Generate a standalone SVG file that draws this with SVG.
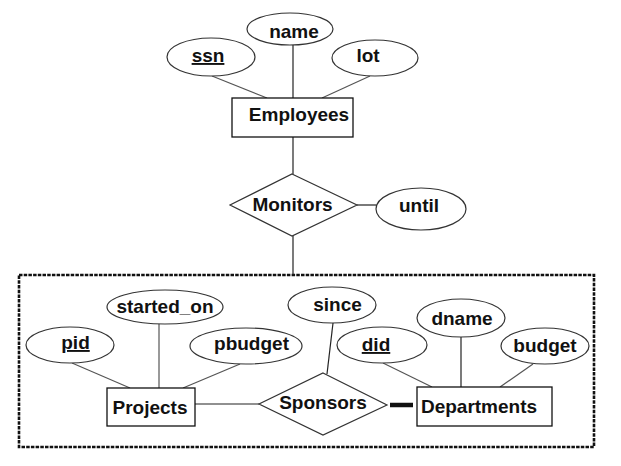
<svg xmlns="http://www.w3.org/2000/svg" width="621" height="466" viewBox="0 0 621 466">
<style>
.ent{fill:#fff;stroke:#111;stroke-width:1.3}
.att{fill:#fff;stroke:#333;stroke-width:1.2}
.rel{fill:#fff;stroke:#333;stroke-width:1.2}
.ln{stroke:#222;stroke-width:1.2;fill:none}
.lg{stroke:#555;stroke-width:1.2;fill:none}
text{font-family:"Liberation Sans",Arial,sans-serif;font-weight:bold;font-size:19px;fill:#111;text-anchor:middle}
.key{text-decoration:underline}
</style>
<rect x="0" y="0" width="621" height="466" fill="#fff"/>
<g id="aggregation">
<rect x="19" y="275" width="575" height="172" fill="none" stroke="#111" stroke-width="2.6" stroke-dasharray="3.5 1.2"/>
</g>
<g id="connectors">
<line class="lg" x1="212" y1="76" x2="267" y2="98"/>
<line class="ln" x1="293" y1="45" x2="293" y2="98"/>
<line class="lg" x1="370" y1="76" x2="322" y2="98"/>
<line class="ln" x1="293" y1="137" x2="293" y2="174"/>
<line class="ln" x1="357" y1="205" x2="376" y2="205"/>
<line class="ln" x1="293" y1="236" x2="293" y2="275"/>
<line class="lg" x1="159" y1="324" x2="159" y2="388"/>
<line class="lg" x1="72" y1="363" x2="130" y2="388"/>
<line class="lg" x1="240" y1="364" x2="183" y2="388"/>
<line class="ln" x1="195" y1="404" x2="259" y2="404"/>
<line class="ln" x1="333" y1="323" x2="327" y2="374"/>
<line stroke="#111" stroke-width="4.5" x1="390" y1="405" x2="413" y2="405"/>
<line class="lg" x1="383" y1="363" x2="432" y2="387"/>
<line class="ln" x1="461" y1="337" x2="461" y2="387"/>
<line class="lg" x1="533" y1="364" x2="500" y2="387"/>
</g>
<g id="ssn"><ellipse class="att" cx="211" cy="57" rx="44" ry="19"/><text class="key" x="208" y="62">ssn</text></g>
<g id="name"><ellipse class="att" cx="290" cy="29" rx="43" ry="16"/><text x="294" y="38">name</text></g>
<g id="lot"><ellipse class="att" cx="375" cy="58" rx="43" ry="18"/><text x="368" y="62">lot</text></g>
<g id="Employees"><rect class="ent" x="232" y="98" width="121" height="39"/><text x="299" y="121">Employees</text></g>
<g id="Monitors"><polygon class="rel" points="292,174 357,205 292,236 230,205"/><text x="292.5" y="211">Monitors</text></g>
<g id="until"><ellipse class="att" cx="421" cy="209" rx="45" ry="21"/><text x="419" y="212">until</text></g>
<g id="started_on"><ellipse class="att" cx="165" cy="307" rx="58" ry="17"/><text x="165" y="313">started_on</text></g>
<g id="pid"><ellipse class="att" cx="70" cy="345" rx="44" ry="18"/><text class="key" x="75.5" y="349">pid</text></g>
<g id="pbudget"><ellipse class="att" cx="246" cy="346" rx="56" ry="18"/><text x="251.5" y="350">pbudget</text></g>
<g id="Projects"><rect class="ent" x="107" y="388" width="88" height="38"/><text x="150" y="414">Projects</text></g>
<g id="Sponsors"><polygon class="rel" points="323,373 387,405 323,435 259,404"/><text x="323" y="409">Sponsors</text></g>
<g id="since"><ellipse class="att" cx="332" cy="305" rx="44" ry="18"/><text x="337.5" y="311">since</text></g>
<g id="did"><ellipse class="att" cx="382" cy="345" rx="45" ry="18"/><text class="key" x="376" y="351">did</text></g>
<g id="dname"><ellipse class="att" cx="461" cy="318" rx="44" ry="19"/><text x="462" y="325">dname</text></g>
<g id="budget"><ellipse class="att" cx="545" cy="346" rx="44" ry="18"/><text x="545" y="352">budget</text></g>
<g id="Departments"><rect class="ent" x="417" y="387" width="135" height="39"/><text x="479" y="413">Departments</text></g>
</svg>
